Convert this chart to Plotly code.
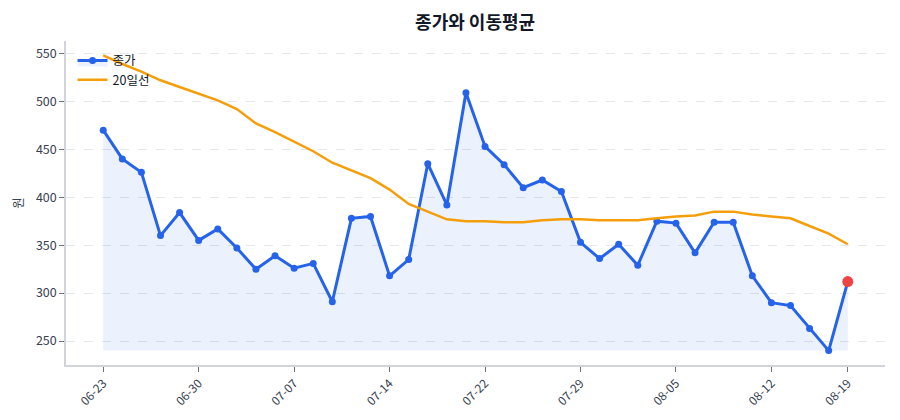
import plotly.graph_objects as go

# 거래일 (MM-DD)
dates = [
    "06-23", "06-24", "06-25", "06-26", "06-27",
    "06-30", "07-01", "07-02", "07-03", "07-04",
    "07-07", "07-08", "07-09", "07-10", "07-11",
    "07-14", "07-15", "07-16", "07-17", "07-18",
    "07-22", "07-23", "07-24", "07-25", "07-28",
    "07-29", "07-30", "07-31", "08-01", "08-04",
    "08-05", "08-06", "08-07", "08-08", "08-11",
    "08-12", "08-13", "08-14", "08-18", "08-19",
]
close = [
    470, 440, 426, 360, 384, 355, 367, 347, 325, 339,
    326, 331, 291, 378, 380, 318, 335, 435, 392, 509,
    453, 434, 410, 418, 406, 353, 336, 351, 329, 375,
    373, 342, 374, 374, 318, 290, 287, 263, 240, 312,
]
ma20 = [
    548, 539, 531, 522, 515, 508, 501, 492, 477, 468,
    458, 448, 436, 428, 420, 408, 393, 385, 377, 375,
    375, 374, 374, 376, 377, 377, 376, 376, 376, 378,
    380, 381, 385, 385, 382, 380, 378, 370, 362, 351,
]
tick_labels = ["06-23", "06-30", "07-07", "07-14", "07-22",
               "07-29", "08-05", "08-12", "08-19"]

base = min(close)
font_family = "Noto Sans CJK KR, Noto Sans, sans-serif"

fig = go.Figure()

# 채우기 기준선 (최저가)
fig.add_trace(go.Scatter(
    x=dates, y=[base] * len(dates), mode="lines",
    line=dict(width=0), showlegend=False, hoverinfo="skip",
))
fig.add_trace(go.Scatter(
    x=dates, y=close, mode="lines+markers", name="종가",
    fill="tonexty", fillcolor="rgba(37,99,235,0.09)",
    line=dict(color="#2563EB", width=3),
    marker=dict(color="#2563EB", size=7),
))
fig.add_trace(go.Scatter(
    x=dates, y=ma20, mode="lines", name="20일선",
    line=dict(color="#F59E0B", width=2.5),
))
# 마지막 종가 강조
fig.add_trace(go.Scatter(
    x=dates[-1:], y=close[-1:], mode="markers", showlegend=False,
    marker=dict(color="#EF4444", size=11),
))

fig.update_layout(
    width=900, height=420,
    paper_bgcolor="white", plot_bgcolor="white",
    margin=dict(l=58, r=23, t=33, b=63, autoexpand=False),
    font=dict(family=font_family, color="#374151", size=12),
    title=dict(text="<b>종가와 이동평균</b>", x=0.519, xanchor="center",
               y=0.965, yanchor="middle", font=dict(size=18, color="#111827")),
    legend=dict(x=0.008, y=0.985, xanchor="left", yanchor="top",
                traceorder="normal",
                bgcolor="rgba(255,255,255,0)", font=dict(size=12.5, color="#111827"),
                tracegroupgap=0),
    showlegend=True,
)
fig.update_xaxes(
    type="category", categoryorder="array", categoryarray=dates,
    range=[-1.95, 40.95], automargin=False,
    tickmode="array", tickvals=tick_labels, ticktext=tick_labels,
    tickangle=-45, tickfont=dict(size=12, color="#374151"),
    showgrid=False, showline=True, linecolor="#D1D5DB", linewidth=1.5,
    ticks="outside", ticklen=5, tickcolor="#6B7280", zeroline=False,
)
fig.update_yaxes(
    range=[225, 563], automargin=False,
    tickvals=[250, 300, 350, 400, 450, 500, 550],
    tickfont=dict(size=12.5, color="#374151"),
    title=dict(text="원", font=dict(size=12.5, color="#374151"), standoff=10),
    showgrid=True, gridcolor="#E5E7EB", griddash="dash", gridwidth=1,
    showline=True, linecolor="#D1D5DB", linewidth=1.5,
    ticks="outside", ticklen=5, tickcolor="#6B7280", zeroline=False,
)

fig.write_html("out.html")
